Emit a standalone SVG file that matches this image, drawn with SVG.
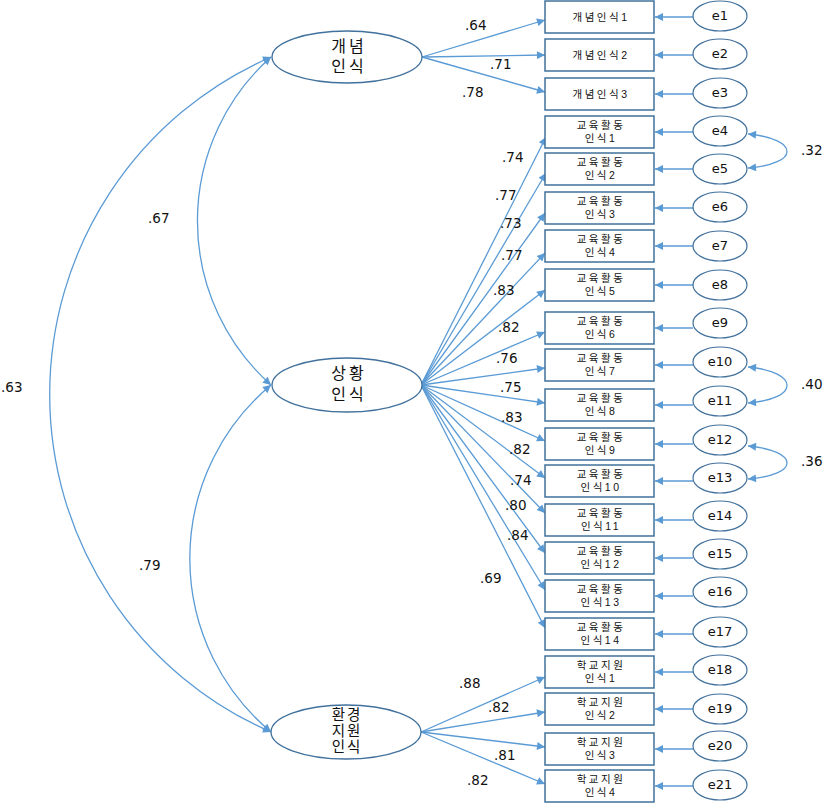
<svg xmlns="http://www.w3.org/2000/svg" width="827" height="804" viewBox="0 0 827 804">
<style>
.bg{fill:#ffffff}
.ln{stroke:#5B9BD5;stroke-width:1.3;fill:none}
.arr{marker-end:url(#ah)}
.bi{marker-start:url(#ah);marker-end:url(#ah)}
.lat{fill:#ffffff;stroke:#41719C;stroke-width:1.3}
.obs{fill:#ffffff;stroke:#41719C;stroke-width:1.5}
.err{fill:#ffffff;stroke:#41719C;stroke-width:1.2}
.lt{font-family:"Liberation Sans","Noto Sans CJK KR",sans-serif;font-size:16px;fill:#111;text-anchor:middle;letter-spacing:3px}
.lt3{font-family:"Liberation Sans","Noto Sans CJK KR",sans-serif;font-size:14.5px;fill:#111;text-anchor:middle;letter-spacing:2px}
.ot{font-family:"Liberation Sans","Noto Sans CJK KR",sans-serif;font-size:10.5px;fill:#111;text-anchor:middle;letter-spacing:2.5px}
.et{font-family:"DejaVu Sans","Liberation Sans",sans-serif;font-size:13px;fill:#111;text-anchor:middle}
.nt{font-family:"DejaVu Sans","Liberation Sans",sans-serif;font-size:13.5px;fill:#111}
</style>
<defs>
<marker id="ah" viewBox="0 0 10 10" refX="10" refY="5" markerWidth="11" markerHeight="8" markerUnits="userSpaceOnUse" orient="auto-start-reverse">
<path d="M0,0 L10,5 L0,10 z" fill="#5B9BD5"/>
</marker>
</defs>
<rect class="bg" x="0" y="0" width="827" height="804"/>

<g id="connectors">
<path class="ln bi" d="M271,57 A219.6,219.6 0 0 0 271,385"/>
<path class="ln bi" d="M271,57 A368,368 0 0 0 271,732"/>
<path class="ln bi" d="M271,385 A226,226 0 0 0 271,732"/>
<line class="ln arr" x1="422" y1="57" x2="545" y2="20"/>
<line class="ln arr" x1="422" y1="57" x2="545" y2="55"/>
<line class="ln arr" x1="422" y1="57" x2="545" y2="92"/>
<line class="ln arr" x1="421" y1="385" x2="546" y2="137"/>
<line class="ln arr" x1="421" y1="385" x2="546" y2="173"/>
<line class="ln arr" x1="421" y1="385" x2="545" y2="213"/>
<line class="ln arr" x1="421" y1="385" x2="545" y2="253"/>
<line class="ln arr" x1="421" y1="385" x2="545" y2="290"/>
<line class="ln arr" x1="421" y1="385" x2="545" y2="332"/>
<line class="ln arr" x1="421" y1="385" x2="545" y2="368"/>
<line class="ln arr" x1="421" y1="385" x2="545" y2="403"/>
<line class="ln arr" x1="421" y1="385" x2="545" y2="441"/>
<line class="ln arr" x1="421" y1="385" x2="545" y2="478"/>
<line class="ln arr" x1="421" y1="385" x2="545" y2="513"/>
<line class="ln arr" x1="421" y1="385" x2="545" y2="553"/>
<line class="ln arr" x1="421" y1="385" x2="545" y2="590"/>
<line class="ln arr" x1="421" y1="385" x2="545" y2="628"/>
<line class="ln arr" x1="421" y1="732" x2="545" y2="677"/>
<line class="ln arr" x1="421" y1="732" x2="545" y2="712"/>
<line class="ln arr" x1="421" y1="732" x2="545" y2="747"/>
<line class="ln arr" x1="421" y1="732" x2="545" y2="784"/>
<line class="ln arr" x1="693" y1="17" x2="655" y2="17"/>
<line class="ln arr" x1="693" y1="55" x2="655" y2="55"/>
<line class="ln arr" x1="693" y1="94" x2="655" y2="94"/>
<line class="ln arr" x1="693" y1="132" x2="655" y2="132"/>
<line class="ln arr" x1="693" y1="169" x2="655" y2="169"/>
<line class="ln arr" x1="693" y1="208" x2="655" y2="208"/>
<line class="ln arr" x1="693" y1="246" x2="655" y2="246"/>
<line class="ln arr" x1="693" y1="285" x2="655" y2="285"/>
<line class="ln arr" x1="693" y1="328" x2="655" y2="328"/>
<line class="ln arr" x1="693" y1="365" x2="655" y2="365"/>
<line class="ln arr" x1="693" y1="405" x2="655" y2="405"/>
<line class="ln arr" x1="693" y1="444" x2="655" y2="444"/>
<line class="ln arr" x1="693" y1="481" x2="655" y2="481"/>
<line class="ln arr" x1="693" y1="520" x2="655" y2="520"/>
<line class="ln arr" x1="693" y1="558" x2="655" y2="558"/>
<line class="ln arr" x1="693" y1="596" x2="655" y2="596"/>
<line class="ln arr" x1="693" y1="634" x2="655" y2="634"/>
<line class="ln arr" x1="693" y1="672" x2="655" y2="672"/>
<line class="ln arr" x1="693" y1="709" x2="655" y2="709"/>
<line class="ln arr" x1="693" y1="749" x2="655" y2="749"/>
<line class="ln arr" x1="693" y1="786" x2="655" y2="786"/>
<path class="ln bi" d="M748,134 C800,139 800,164 748,168"/>
<path class="ln bi" d="M748,367 C800,372 800,399 748,403"/>
<path class="ln bi" d="M748,446 C800,451 800,475 748,479"/>
</g>

<g id="labels">
<text class="nt" x="465" y="30">.64</text>
<text class="nt" x="490" y="69">.71</text>
<text class="nt" x="462" y="97">.78</text>
<text class="nt" x="502" y="162">.74</text>
<text class="nt" x="495" y="200">.77</text>
<text class="nt" x="500" y="228">.73</text>
<text class="nt" x="501" y="260">.77</text>
<text class="nt" x="493" y="295">.83</text>
<text class="nt" x="498" y="332">.82</text>
<text class="nt" x="496" y="363">.76</text>
<text class="nt" x="500" y="392">.75</text>
<text class="nt" x="501" y="422">.83</text>
<text class="nt" x="509" y="454">.82</text>
<text class="nt" x="510" y="485">.74</text>
<text class="nt" x="505" y="510">.80</text>
<text class="nt" x="507" y="540">.84</text>
<text class="nt" x="480" y="583">.69</text>
<text class="nt" x="459" y="688">.88</text>
<text class="nt" x="488" y="712">.82</text>
<text class="nt" x="494" y="760">.81</text>
<text class="nt" x="467" y="785">.82</text>
<text class="nt" x="148" y="223">.67</text>
<text class="nt" x="1" y="392">.63</text>
<text class="nt" x="139" y="570">.79</text>
<text class="nt" x="801" y="155">.32</text>
<text class="nt" x="801" y="389">.40</text>
<text class="nt" x="801" y="466">.36</text>
</g>

<g id="F1"><ellipse class="lat" cx="347" cy="57" rx="75" ry="26"/><text class="lt"><tspan x="349" y="52">개념</tspan><tspan x="349" y="72">인식</tspan></text></g>
<g id="F2"><ellipse class="lat" cx="347" cy="385" rx="75" ry="27"/><text class="lt"><tspan x="349" y="379">상황</tspan><tspan x="349" y="400">인식</tspan></text></g>
<g id="F3"><ellipse class="lat" cx="346" cy="732" rx="75" ry="27"/><text class="lt3"><tspan x="347" y="720">환경</tspan><tspan x="347" y="736">지원</tspan><tspan x="347" y="752">인식</tspan></text></g>

<g id="x1"><rect class="obs" x="545" y="1" width="109" height="32"/><text class="ot" x="601" y="21">개념인식1</text></g>
<g id="x2"><rect class="obs" x="545" y="39" width="109" height="32"/><text class="ot" x="601" y="59">개념인식2</text></g>
<g id="x3"><rect class="obs" x="545" y="78" width="109" height="32"/><text class="ot" x="601" y="98">개념인식3</text></g>
<g id="x4"><rect class="obs" x="545" y="116" width="109" height="32"/><text class="ot"><tspan x="601" y="129">교육활동</tspan><tspan x="601" y="142">인식1</tspan></text></g>
<g id="x5"><rect class="obs" x="545" y="153" width="109" height="32"/><text class="ot"><tspan x="601" y="166">교육활동</tspan><tspan x="601" y="179">인식2</tspan></text></g>
<g id="x6"><rect class="obs" x="545" y="192" width="109" height="32"/><text class="ot"><tspan x="601" y="205">교육활동</tspan><tspan x="601" y="218">인식3</tspan></text></g>
<g id="x7"><rect class="obs" x="545" y="230" width="109" height="32"/><text class="ot"><tspan x="601" y="243">교육활동</tspan><tspan x="601" y="256">인식4</tspan></text></g>
<g id="x8"><rect class="obs" x="545" y="269" width="109" height="32"/><text class="ot"><tspan x="601" y="282">교육활동</tspan><tspan x="601" y="295">인식5</tspan></text></g>
<g id="x9"><rect class="obs" x="545" y="312" width="109" height="32"/><text class="ot"><tspan x="601" y="325">교육활동</tspan><tspan x="601" y="338">인식6</tspan></text></g>
<g id="x10"><rect class="obs" x="545" y="349" width="109" height="32"/><text class="ot"><tspan x="601" y="362">교육활동</tspan><tspan x="601" y="375">인식7</tspan></text></g>
<g id="x11"><rect class="obs" x="545" y="389" width="109" height="32"/><text class="ot"><tspan x="601" y="402">교육활동</tspan><tspan x="601" y="415">인식8</tspan></text></g>
<g id="x12"><rect class="obs" x="545" y="428" width="109" height="32"/><text class="ot"><tspan x="601" y="441">교육활동</tspan><tspan x="601" y="454">인식9</tspan></text></g>
<g id="x13"><rect class="obs" x="545" y="465" width="109" height="32"/><text class="ot"><tspan x="601" y="478">교육활동</tspan><tspan x="601" y="491">인식10</tspan></text></g>
<g id="x14"><rect class="obs" x="545" y="504" width="109" height="32"/><text class="ot"><tspan x="601" y="517">교육활동</tspan><tspan x="601" y="530">인식11</tspan></text></g>
<g id="x15"><rect class="obs" x="545" y="542" width="109" height="32"/><text class="ot"><tspan x="601" y="555">교육활동</tspan><tspan x="601" y="568">인식12</tspan></text></g>
<g id="x16"><rect class="obs" x="545" y="580" width="109" height="32"/><text class="ot"><tspan x="601" y="593">교육활동</tspan><tspan x="601" y="606">인식13</tspan></text></g>
<g id="x17"><rect class="obs" x="545" y="618" width="109" height="32"/><text class="ot"><tspan x="601" y="631">교육활동</tspan><tspan x="601" y="644">인식14</tspan></text></g>
<g id="x18"><rect class="obs" x="545" y="656" width="109" height="32"/><text class="ot"><tspan x="601" y="669">학교지원</tspan><tspan x="601" y="682">인식1</tspan></text></g>
<g id="x19"><rect class="obs" x="545" y="693" width="109" height="32"/><text class="ot"><tspan x="601" y="706">학교지원</tspan><tspan x="601" y="719">인식2</tspan></text></g>
<g id="x20"><rect class="obs" x="545" y="733" width="109" height="32"/><text class="ot"><tspan x="601" y="746">학교지원</tspan><tspan x="601" y="759">인식3</tspan></text></g>
<g id="x21"><rect class="obs" x="545" y="770" width="109" height="32"/><text class="ot"><tspan x="601" y="783">학교지원</tspan><tspan x="601" y="796">인식4</tspan></text></g>

<g id="e1"><ellipse class="err" cx="720" cy="16" rx="27" ry="15"/><text class="et" x="720" y="20">e1</text></g>
<g id="e2"><ellipse class="err" cx="720" cy="54" rx="27" ry="15"/><text class="et" x="720" y="58">e2</text></g>
<g id="e3"><ellipse class="err" cx="720" cy="93" rx="27" ry="15"/><text class="et" x="720" y="97">e3</text></g>
<g id="e4"><ellipse class="err" cx="720" cy="131" rx="27" ry="15"/><text class="et" x="720" y="135">e4</text></g>
<g id="e5"><ellipse class="err" cx="720" cy="169" rx="27" ry="15"/><text class="et" x="720" y="173">e5</text></g>
<g id="e6"><ellipse class="err" cx="720" cy="207" rx="27" ry="15"/><text class="et" x="720" y="211">e6</text></g>
<g id="e7"><ellipse class="err" cx="720" cy="246" rx="27" ry="15"/><text class="et" x="720" y="250">e7</text></g>
<g id="e8"><ellipse class="err" cx="720" cy="285" rx="27" ry="15"/><text class="et" x="720" y="289">e8</text></g>
<g id="e9"><ellipse class="err" cx="720" cy="323" rx="27" ry="15"/><text class="et" x="720" y="327">e9</text></g>
<g id="e10"><ellipse class="err" cx="720" cy="362" rx="27" ry="15"/><text class="et" x="720" y="366">e10</text></g>
<g id="e11"><ellipse class="err" cx="720" cy="401" rx="27" ry="15"/><text class="et" x="720" y="405">e11</text></g>
<g id="e12"><ellipse class="err" cx="720" cy="440" rx="27" ry="15"/><text class="et" x="720" y="444">e12</text></g>
<g id="e13"><ellipse class="err" cx="720" cy="478" rx="27" ry="15"/><text class="et" x="720" y="482">e13</text></g>
<g id="e14"><ellipse class="err" cx="720" cy="516" rx="27" ry="15"/><text class="et" x="720" y="520">e14</text></g>
<g id="e15"><ellipse class="err" cx="720" cy="554" rx="27" ry="15"/><text class="et" x="720" y="558">e15</text></g>
<g id="e16"><ellipse class="err" cx="720" cy="592" rx="27" ry="15"/><text class="et" x="720" y="596">e16</text></g>
<g id="e17"><ellipse class="err" cx="720" cy="632" rx="27" ry="15"/><text class="et" x="720" y="636">e17</text></g>
<g id="e18"><ellipse class="err" cx="720" cy="670" rx="27" ry="15"/><text class="et" x="720" y="674">e18</text></g>
<g id="e19"><ellipse class="err" cx="720" cy="709" rx="27" ry="15"/><text class="et" x="720" y="713">e19</text></g>
<g id="e20"><ellipse class="err" cx="720" cy="746" rx="27" ry="15"/><text class="et" x="720" y="750">e20</text></g>
<g id="e21"><ellipse class="err" cx="720" cy="785" rx="27" ry="15"/><text class="et" x="720" y="789">e21</text></g>
</svg>
